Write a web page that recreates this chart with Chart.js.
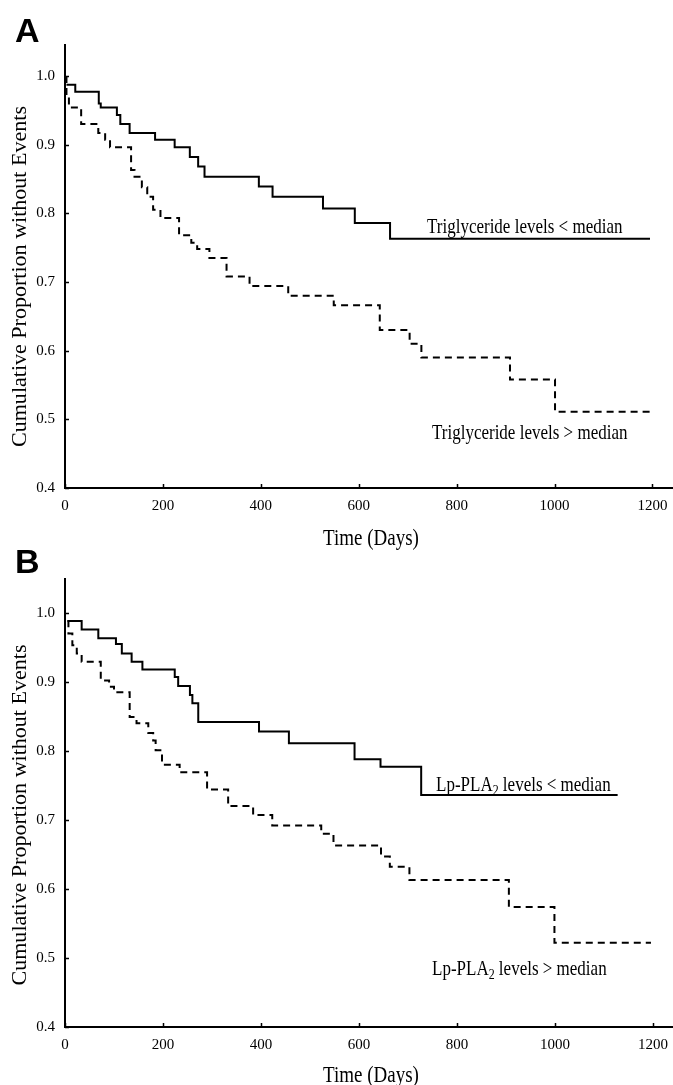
<!DOCTYPE html>
<html>
<head>
<meta charset="utf-8">
<script src="https://cdn.jsdelivr.net/npm/chart.js@4.4.1/dist/chart.umd.min.js"></script>
<style>
    html, body { margin: 0; padding: 0; background: #fff; overflow: hidden; }
    body { position: relative; width: 673px; height: 1085px; }
    canvas { position: absolute; left: 0; display: block; }
    #chartA { top: 0; }
    #chartB { top: 540px; }
</style>
</head>
<body>
<canvas id="chartA" width="673" height="560"></canvas>
<canvas id="chartB" width="673" height="545"></canvas>
<script>
'use strict';

// panel A: triglyceride levels (days of event, survival after event)
const trigLowDays  = [3, 21, 69, 73, 106, 113, 132, 184, 224, 255, 272, 285, 396, 424, 527, 592, 664, 1195];
const trigLowSurv  = [0.987, 0.977, 0.960, 0.954, 0.943, 0.930, 0.917, 0.907, 0.896, 0.882, 0.868, 0.853, 0.839, 0.824, 0.807, 0.786, 0.763, 0.763];
const trigHighDays = [3, 3, 8, 33, 68, 82, 92, 135, 142, 157, 168, 180, 195, 233, 258, 270, 295, 330, 377, 456, 549, 643, 704, 728, 909, 1001, 1195];
const trigHighSurv = [1.0, 0.970, 0.954, 0.930, 0.917, 0.907, 0.896, 0.863, 0.853, 0.838, 0.824, 0.805, 0.793, 0.768, 0.757, 0.748, 0.735, 0.708, 0.694, 0.680, 0.666, 0.630, 0.610, 0.590, 0.558, 0.511, 0.511];

// panel B: Lp-PLA2 levels
const lpLowDays  = [5, 34, 68, 104, 116, 136, 158, 224, 231, 255, 260, 272, 396, 457, 591, 644, 727, 1128];
const lpLowSurv  = [0.988, 0.976, 0.963, 0.955, 0.941, 0.929, 0.918, 0.907, 0.894, 0.881, 0.869, 0.842, 0.828, 0.811, 0.788, 0.777, 0.736, 0.736];
const lpHighDays = [5, 7, 15, 24, 34, 73, 90, 100, 132, 146, 170, 180, 185, 198, 234, 290, 333, 384, 423, 523, 548, 645, 663, 703, 906, 999, 1196];
const lpHighSurv = [0.988, 0.970, 0.953, 0.941, 0.929, 0.902, 0.893, 0.885, 0.849, 0.840, 0.826, 0.815, 0.801, 0.780, 0.769, 0.744, 0.720, 0.707, 0.692, 0.680, 0.663, 0.647, 0.632, 0.613, 0.574, 0.522, 0.522];

// axis ticks and titles
const xTicks = [0, 200, 400, 600, 800, 1000, 1200];
const yTicks = [0.4, 0.5, 0.6, 0.7, 0.8, 0.9, 1.0];
const xTitle = 'Time (Days)';
const yTitle = 'Cumulative Proportion without Events';

const serif = '"Liberation Serif", "Times New Roman", serif';

function toPoints (days, surv) {
    return days.map((d, i) => ({ x: d, y: surv[i] }));
}

// draw text pieces (with optional subscript), stretched like the scanned figure
function drawParts (ctx, parts, x, y, o) {
    ctx.save();
    ctx.translate(x, y);
    ctx.rotate(o.angle || 0);
    ctx.scale(o.sx || 1, o.sy || 1);
    ctx.textBaseline = 'alphabetic';
    ctx.textAlign = 'left';

    let total = 0;
    parts.forEach((p) => {
        ctx.font = `${p.sub ? o.size * 0.7 : o.size}px ${serif}`;
        total += ctx.measureText(p.text).width;
    });

    let cx = o.align === 'center' ? -total / 2 : 0;
    parts.forEach((p) => {
        ctx.font = `${p.sub ? o.size * 0.7 : o.size}px ${serif}`;
        ctx.fillText(p.text, cx, p.sub ? o.size * 0.22 : 0);
        cx += ctx.measureText(p.text).width;
    });
    ctx.restore();
}

const panelText = {
    id: 'panelText',
    afterDraw (chart, args, opts) {
        const ctx = chart.ctx;
        const area = chart.chartArea;
        const xs = chart.scales.x;
        const ys = chart.scales.y;

        ctx.save();
        ctx.fillStyle = '#000';
        ctx.strokeStyle = '#000';

        // small inward tick marks
        ctx.lineWidth = 1.5;
        ctx.beginPath();
        yTicks.forEach((v) => {
            const py = Math.round(ys.getPixelForValue(v)) + 0.5;
            ctx.moveTo(area.left, py);
            ctx.lineTo(area.left + 4, py);
        });
        xTicks.forEach((v) => {
            const px = Math.round(xs.getPixelForValue(v)) + 0.5;
            ctx.moveTo(px, area.bottom);
            ctx.lineTo(px, area.bottom - 4);
        });
        ctx.stroke();

        // panel letter
        ctx.font = 'bold 34px "Liberation Sans", Arial, sans-serif';
        ctx.textAlign = 'left';
        ctx.textBaseline = 'alphabetic';
        ctx.fillText(opts.letter, 15, opts.letterY);

        // axis titles
        drawParts(ctx, [{ text: yTitle }], 25.5, (area.top + area.bottom) / 2 + opts.yTitleShift,
            { size: 19, sx: 1.16, sy: 1.05, angle: -Math.PI / 2, align: 'center' });
        drawParts(ctx, [{ text: xTitle }], (area.left + area.right) / 2 + 2, opts.xTitleY,
            { size: 19, sx: 1.0, sy: 1.18, align: 'center' });

        // curve labels
        opts.labels.forEach((l) => {
            drawParts(ctx, l.parts, l.x, l.y, { size: 17, sx: 1.0, sy: 1.18 });
        });

        ctx.restore();
    }
};

function makeChart (canvas, p) {
    return new Chart(canvas, {
        type: 'line',
        data: {
            datasets: [{
                label: p.lowLabel,
                data: toPoints(p.lowDays, p.lowSurv),
                borderColor: '#000',
                borderWidth: 2,
                stepped: true,
                pointRadius: 0,
                fill: false
            }, {
                label: p.highLabel,
                data: toPoints(p.highDays, p.highSurv),
                borderColor: '#000',
                borderWidth: 2,
                borderDash: [7, 5],
                stepped: true,
                pointRadius: 0,
                fill: false
            }]
        },
        options: {
            responsive: false,
            animation: false,
            devicePixelRatio: 1,
            layout: {
                padding: { top: p.top, left: 0, right: 0, bottom: 0 }
            },
            plugins: {
                legend: { display: false },
                tooltip: { enabled: false },
                panelText: p.text
            },
            scales: {
                x: {
                    type: 'linear',
                    min: 0,
                    max: p.xMax,
                    afterFit: (s) => { s.height = p.xHeight; },
                    afterBuildTicks: (s) => { s.ticks = xTicks.map((v) => ({ value: v })); },
                    grid: { drawOnChartArea: false, drawTicks: true, tickLength: 6, tickColor: 'rgba(0,0,0,0)' },
                    border: { display: true, color: '#000', width: 2 },
                    ticks: {
                        autoSkip: false,
                        maxRotation: 0,
                        padding: 3,
                        color: '#000',
                        font: { family: serif, size: 15 },
                        callback: (v) => String(v)
                    }
                },
                y: {
                    min: 0.4,
                    max: p.yMax,
                    afterFit: (s) => { s.width = 65; },
                    afterBuildTicks: (s) => { s.ticks = yTicks.map((v) => ({ value: v })); },
                    grid: { drawOnChartArea: false, drawTicks: true, tickLength: 6, tickColor: 'rgba(0,0,0,0)' },
                    border: { display: true, color: '#000', width: 2 },
                    ticks: {
                        padding: 4,
                        color: '#000',
                        font: { family: serif, size: 15 },
                        callback: (v) => Number(v).toFixed(1)
                    }
                }
            }
        },
        plugins: [panelText]
    });
}

makeChart(document.getElementById('chartA'), {
    lowDays: trigLowDays, lowSurv: trigLowSurv, lowLabel: 'Triglyceride levels < median',
    highDays: trigHighDays, highSurv: trigHighSurv, highLabel: 'Triglyceride levels > median',
    top: 45, xHeight: 72, xMax: 1242, yMax: 1.045,
    text: {
        letter: 'A', letterY: 42, xTitleY: 545, yTitleShift: 10,
        labels: [
            { parts: [{ text: 'Triglyceride levels < median' }], x: 427, y: 233 },
            { parts: [{ text: 'Triglyceride levels > median' }], x: 432, y: 439 }
        ]
    }
});

makeChart(document.getElementById('chartB'), {
    lowDays: lpLowDays, lowSurv: lpLowSurv, lowLabel: 'Lp-PLA2 levels < median',
    highDays: lpHighDays, highSurv: lpHighSurv, highLabel: 'Lp-PLA2 levels > median',
    top: 39, xHeight: 58, xMax: 1241, yMax: 1.049,
    text: {
        letter: 'B', letterY: 33, xTitleY: 542, yTitleShift: 12,
        labels: [
            { parts: [{ text: 'Lp-PLA' }, { text: '2', sub: true }, { text: ' levels < median' }], x: 436, y: 251 },
            { parts: [{ text: 'Lp-PLA' }, { text: '2', sub: true }, { text: ' levels > median' }], x: 432, y: 435 }
        ]
    }
});
</script>
</body>
</html>
